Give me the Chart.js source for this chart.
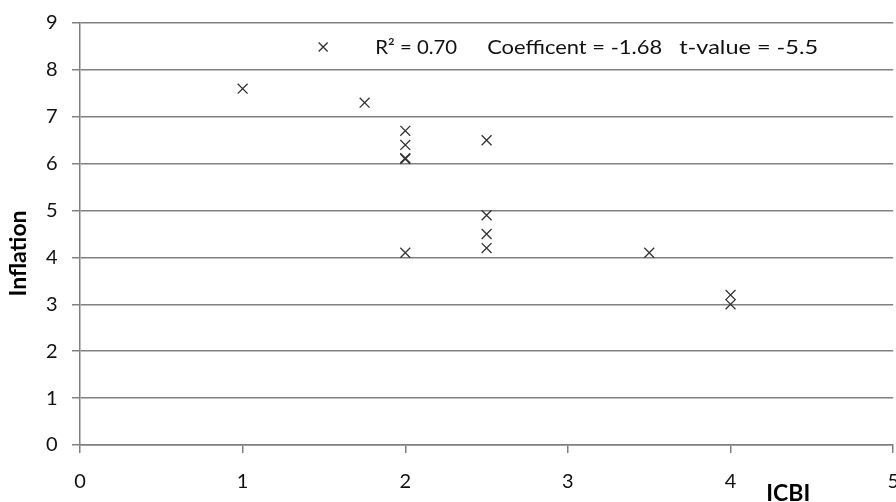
<!DOCTYPE html>
<html>
<head>
<meta charset="utf-8">
<script src="https://cdn.jsdelivr.net/npm/chart.js@4.4.1/dist/chart.umd.min.js"></script>
<style>
    html, body { margin: 0; padding: 0; background: #fff; overflow: hidden; }
    /* un poco mas grande que la ventana: el "5" del eje queda cortado como en el original */
    #stay_canvas { width: 916px; height: 512px; position: relative; }
</style>
</head>
<body>
<div id="stay_canvas"><canvas id="grafico"></canvas></div>
<script>
// datos
var icbi =      [1,   1.75, 2,   2,   2,   2,    2,   2.5, 2.5, 2.5, 2.5, 3.5, 4,   4];
var inflacion = [7.6, 7.3,  6.7, 6.4, 6.1, 6.12, 4.1, 6.5, 4.9, 4.5, 4.2, 4.1, 3.2, 3.0];
var xTicks = [0, 1, 2, 3, 4, 5];
var yTicks = [0, 1, 2, 3, 4, 5, 6, 7, 8, 9];
var leyenda = ["R\u00B2 = 0.70", "Coefficent = -1.68", "t-value = -5.5"];
var tituloX = "ICBI";
var tituloY = "Inflation";

var gris = "#808080";
var fuente = "Lato, 'Open Sans', sans-serif";

var puntos = [];
for (var i = 0; i < icbi.length; i++) {
    puntos.push({x: icbi[i], y: inflacion[i]});
}

function cruz(ctx, x, y, r) {
    ctx.beginPath();
    ctx.moveTo(x - r, y - r); ctx.lineTo(x + r, y + r);
    ctx.moveTo(x + r, y - r); ctx.lineTo(x - r, y + r);
    ctx.stroke();
}

// leyenda dentro del area y titulos de ejes
var extras = {
    id: 'extras',
    afterDraw: function (chart) {
        var ctx = chart.ctx;
        var a = chart.chartArea;
        var w = a.right - a.left, h = a.bottom - a.top;
        ctx.save();
        var mx = a.left + w * 0.299, my = a.top + h * 0.057;
        ctx.strokeStyle = "#333";
        ctx.lineWidth = 1.3;
        cruz(ctx, mx, my, 4.5);

        ctx.fillStyle = "#111";
        ctx.font = "19px " + fuente;
        ctx.textBaseline = "middle";
        ctx.textAlign = "left";
        var offs = [52, 164, 356];
        var anchos = [82, 175, 139];
        for (var k = 0; k < leyenda.length; k++) {
            var sx = anchos[k] / ctx.measureText(leyenda[k]).width;
            ctx.save();
            ctx.translate(mx + offs[k], my + 1);
            ctx.scale(sx, 1);
            ctx.fillText(leyenda[k], 0, 0);
            ctx.restore();
        }

        ctx.font = "bold 23px " + fuente;
        ctx.fillStyle = "#000";
        ctx.textAlign = "center";
        ctx.textBaseline = "alphabetic";
        ctx.fillText(tituloX, a.left + w * 0.871, a.bottom + 56);
        ctx.translate(26, a.top + h * 0.546);
        ctx.rotate(-Math.PI / 2);
        ctx.fillText(tituloY, 0, 0);
        ctx.restore();
    }
};

var ctx = document.getElementById('grafico').getContext('2d');
var chart = new Chart(ctx, {
    type: 'scatter',
    data: {
        datasets: [{
            label: leyenda.join("   "),
            data: puntos,
            pointStyle: 'crossRot',
            pointRadius: 7,
            pointHoverRadius: 7,
            borderColor: "#333",
            backgroundColor: "#333",
            pointBorderWidth: 1.3
        }]
    },
    plugins: [extras],
    options: {
        responsive: true,
        maintainAspectRatio: false,
        animation: false,
        layout: {
            padding: {left: 31.4, right: 7, top: 23, bottom: 1}
        },
        plugins: {
            legend: {display: false},
            tooltip: {enabled: false}
        },
        scales: {
            x: {
                type: 'linear',
                min: 0,
                max: 5,
                afterBuildTicks: function (s) { s.ticks = xTicks.map(function (v) { return {value: v}; }); },
                grid: {
                    drawOnChartArea: false,
                    drawTicks: true,
                    tickLength: 8,
                    color: gris,
                    lineWidth: 1.5
                },
                border: {color: gris, width: 1.5},
                ticks: {
                    padding: 17,
                    color: "#111",
                    font: {family: fuente, size: 20},
                    maxRotation: 0
                }
            },
            y: {
                type: 'linear',
                min: 0,
                max: 9,
                afterBuildTicks: function (s) { s.ticks = yTicks.map(function (v) { return {value: v}; }); },
                grid: {
                    drawTicks: true,
                    tickLength: 8,
                    color: gris,
                    lineWidth: 1.5
                },
                border: {color: gris, width: 1.5},
                ticks: {
                    padding: 14.5,
                    color: "#111",
                    font: {family: fuente, size: 20, lineHeight: 0.8}
                }
            }
        }
    }
});
</script>
</body>
</html>
